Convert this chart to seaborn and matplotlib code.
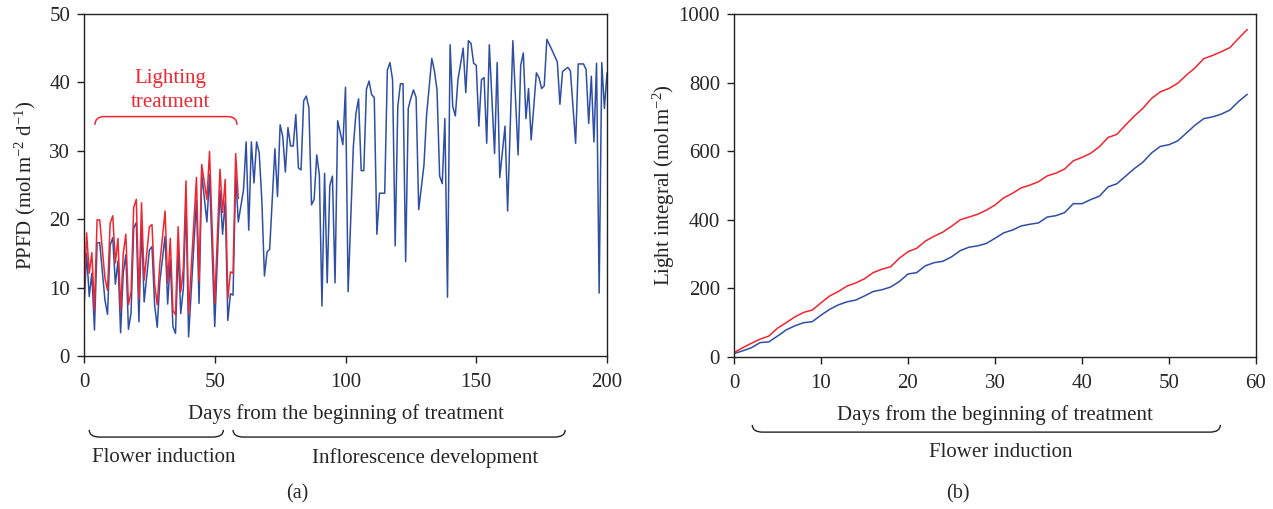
import numpy as np
import pandas as pd
import matplotlib
matplotlib.use('Agg')
import matplotlib.pyplot as plt
import seaborn as sns
from matplotlib.path import Path
from matplotlib.patches import PathPatch
import matplotlib.transforms as mtransforms

# ---- data ----
# (a) daily PPFD, flower induction period (lit plants in red, control in blue)
days_ind = [0, 1, 2, 3, 4, 5, 6, 8, 9, 10, 11, 12, 13, 14, 15, 16, 17, 18, 19, 20,
            21, 22, 23, 25, 26, 27, 28, 29, 31, 32, 33, 34, 35, 36, 37, 38, 39, 40, 43, 44,
            45, 47, 48, 50, 52, 53, 54, 55, 56, 57, 58, 59]
ppfd_ctrl_ind = [7.0, 15.0, 8.7, 12.1, 3.8, 16.5, 16.6, 8.2, 6.1, 16.2,
                 17.3, 10.5, 13.9, 3.4, 12.1, 14.8, 3.9, 6.3, 18.7, 19.5,
                 5.0, 19.2, 7.9, 15.5, 16.0, 7.5, 4.2, 10.9, 17.5, 7.6,
                 14.1, 4.3, 3.3, 15.7, 6.2, 9.9, 22.6, 2.8, 22.8, 7.7,
                 26.7, 19.6, 26.5, 4.3, 24.2, 17.8, 22.7, 5.2, 9.1, 8.9,
                 26.5, 19.6]
ppfd_lit_ind = [8.5, 18.0, 12.1, 15.1, 6.7, 19.9, 19.9, 11.4, 9.6, 19.4,
                20.5, 13.6, 17.2, 6.7, 14.9, 17.8, 7.5, 9.4, 21.7, 22.9,
                8.4, 22.4, 11.1, 18.9, 19.2, 10.5, 7.5, 13.5, 21.2, 10.6,
                17.2, 6.7, 6.0, 18.9, 9.4, 12.8, 25.6, 6.2, 26.1, 10.9,
                28.0, 22.9, 29.9, 7.7, 27.3, 21.0, 25.8, 8.4, 12.3, 12.1,
                29.6, 23.0]

# (a) daily PPFD, inflorescence development period
days_dev = [61, 62, 63, 64, 65, 66, 67, 68, 69, 70, 71, 73, 74, 75, 76, 77, 78, 79, 80, 81,
            82, 83, 84, 85, 86, 87, 88, 89, 90, 91, 92, 93, 94, 95, 96, 97, 99, 100, 101, 103,
            104, 105, 106, 107, 108, 109, 110, 111, 112, 113, 115, 116, 117, 118, 119, 120,
            121, 122, 123, 124, 125, 126, 127, 128, 130, 131, 133, 134, 135, 136, 137, 138,
            139, 140, 141, 142, 143, 145, 146, 147, 148, 149, 150, 151, 152, 153, 154, 155,
            157, 158, 159, 161, 162, 164, 166, 167, 168, 169, 170, 171, 173, 174, 175, 176,
            177, 178, 179, 181, 182, 183, 185, 186, 188, 189, 191, 192, 193, 194, 195, 196,
            197, 198, 199, 200]
ppfd_dev = [24.3, 31.3, 18.4, 31.3, 25.3, 31.3, 29.7, 22.8, 11.7, 15.2,
            15.6, 30.3, 23.3, 33.8, 32.1, 26.9, 33.4, 30.7, 30.7, 35.3,
            27.5, 27.2, 37.3, 38.0, 36.3, 22.1, 22.9, 29.4, 26.5, 7.3,
            26.7, 10.7, 24.9, 26.3, 10.7, 34.4, 30.9, 39.3, 9.4, 30.6,
            35.5, 37.6, 27.1, 27.1, 39.0, 40.2, 38.2, 37.8, 17.8, 23.8,
            23.8, 41.8, 42.9, 40.4, 16.1, 36.5, 39.8, 39.8, 13.8, 36.2,
            37.7, 38.9, 37.8, 21.4, 27.9, 35.2, 43.5, 41.7, 38.9, 26.3,
            25.2, 34.7, 8.6, 45.5, 36.5, 35.1, 40.4, 45.0, 38.5, 46.1,
            45.7, 42.8, 42.5, 33.6, 40.4, 40.7, 31.1, 45.5, 29.6, 42.9,
            26.1, 33.6, 21.2, 46.1, 29.4, 42.5, 44.3, 34.7, 39.1, 31.6,
            41.4, 40.7, 39.1, 39.5, 46.3, 45.5, 44.7, 43.0, 36.8, 41.6,
            42.2, 41.7, 31.1, 42.7, 42.7, 41.9, 34.0, 40.9, 31.3, 42.8,
            9.2, 42.9, 36.2, 41.4]

# (b) light integral during flower induction
days_b = np.arange(60)
integral_ctrl = [10, 18, 27, 42, 44, 61, 79, 91, 100, 103,
                 122, 139, 152, 161, 166, 178, 191, 196, 204, 220,
                 242, 246, 266, 275, 279, 292, 310, 320, 324, 331,
                 346, 362, 370, 382, 387, 391, 408, 412, 421, 447,
                 447, 459, 469, 496, 505, 527, 549, 568, 595, 614,
                 619, 630, 653, 676, 695, 700, 708, 720, 745, 766]
integral_lit = [13, 27, 40, 52, 61, 84, 100, 117, 130, 137,
                158, 178, 191, 207, 216, 228, 246, 256, 263, 288,
                307, 317, 338, 352, 364, 381, 400, 408, 416, 428,
                443, 464, 477, 493, 501, 511, 528, 536, 548, 572,
                582, 594, 613, 640, 649, 676, 702, 725, 754, 773,
                783, 798, 822, 843, 870, 879, 890, 902, 929, 955]

BLUE = '#2f4fa6'
RED = '#ef2630'

sns.set_style('ticks')
plt.rcParams['font.family'] = ['Liberation Serif', 'DejaVu Serif']
plt.rcParams['mathtext.fontset'] = 'custom'
plt.rcParams['mathtext.rm'] = 'Liberation Serif'
plt.rcParams['mathtext.it'] = 'Liberation Serif:italic'
plt.rcParams['axes.unicode_minus'] = True
FS = 15

W, H = 1273, 509
fig = plt.figure(figsize=(W / 100, H / 100), dpi=100)


def px_axes(l, t, r, b):
    return fig.add_axes([l / W, 1 - b / H, (r - l) / W, (b - t) / H])


def brace(ax, x0, x1, y_tip, y_base, r, color='#222222', lw=1.0):
    # rounded bracket: data x, axes-fraction y
    tr = mtransforms.blended_transform_factory(ax.transData, ax.transAxes)
    verts = [(x0, y_tip), (x0, y_base), (x0 + r, y_base),
             (x1 - r, y_base), (x1, y_base), (x1, y_tip)]
    codes = [Path.MOVETO, Path.CURVE3, Path.CURVE3,
             Path.LINETO, Path.CURVE3, Path.CURVE3]
    ax.add_patch(PathPatch(Path(verts, codes), transform=tr, fill=False,
                           edgecolor=color, lw=lw, clip_on=False))


def style(ax):
    for s in ax.spines.values():
        s.set_visible(True)
        s.set_linewidth(1.0)
        s.set_color('#222222')
    ax.tick_params(direction='out', length=5, width=1.0, color='#222222',
                   labelsize=FS)
    ax.tick_params(axis='x', pad=7)
    ax.tick_params(axis='y', pad=5)


# ---- panel (a) ----
ax1 = px_axes(84, 14, 607, 356)
ctrl_a = pd.DataFrame({'day': days_ind + days_dev, 'ppfd': ppfd_ctrl_ind + ppfd_dev})
lit_a = pd.DataFrame({'day': days_ind, 'ppfd': ppfd_lit_ind})
sns.lineplot(data=ctrl_a, x='day', y='ppfd', color=BLUE, lw=1.1, ax=ax1)
sns.lineplot(data=lit_a, x='day', y='ppfd', color=RED, lw=1.1, ax=ax1)
ax1.set_xlim(0, 200)
ax1.set_ylim(0, 50)
ax1.set_xticks([0, 50, 100, 150, 200])
ax1.set_yticks([0, 10, 20, 30, 40, 50])
ax1.set_xlabel('Days from the beginning of treatment', fontsize=FS, labelpad=9)
ax1.set_ylabel(r'PPFD (mol$\,$m$^{-2}$ d$^{-1}$)', fontsize=FS, labelpad=8)
style(ax1)

ax1.text(33.0, 38.8, 'Lighting\ntreatment', color=RED, fontsize=FS,
         ha='center', va='center', linespacing=1.35)
brace(ax1, 4.2, 58.5, 33.8 / 50, 35.0 / 50, 3.5, color=RED, lw=1.1)

blend1 = mtransforms.blended_transform_factory(ax1.transData, ax1.transAxes)
brace(ax1, 2.0, 53.3, -0.216, -0.237, 4.0)
brace(ax1, 57.0, 184.0, -0.216, -0.237, 4.0)
ax1.text(30.5, -0.297, 'Flower induction', fontsize=FS, ha='center', va='center',
         transform=blend1)
ax1.text(130.5, -0.297, 'Inflorescence development', fontsize=FS, ha='center',
         va='center', transform=blend1)
fig.text(297 / W, 1 - 494 / H, '(a)', fontsize=FS - 0.5, ha='center', va='center')

# ---- panel (b) ----
ax2 = px_axes(734, 14, 1256, 357)
ctrl_b = pd.DataFrame({'day': days_b, 'integral': integral_ctrl})
lit_b = pd.DataFrame({'day': days_b, 'integral': integral_lit})
sns.lineplot(data=ctrl_b, x='day', y='integral', color=BLUE, lw=1.1, ax=ax2)
sns.lineplot(data=lit_b, x='day', y='integral', color=RED, lw=1.1, ax=ax2)
ax2.set_xlim(0, 60)
ax2.set_ylim(0, 1000)
ax2.set_xticks(range(0, 61, 10))
ax2.set_yticks(range(0, 1001, 200))
ax2.set_xlabel('Days from the beginning of treatment', fontsize=FS, labelpad=9)
ax2.set_ylabel(r'Light integral (mol$\,$m$^{-2}$)', fontsize=FS, labelpad=1)
style(ax2)

blend2 = mtransforms.blended_transform_factory(ax2.transData, ax2.transAxes)
brace(ax2, 2.1, 55.9, -0.198, -0.219, 1.2)
ax2.text(30.7, -0.277, 'Flower induction', fontsize=FS, ha='center', va='center',
         transform=blend2)
fig.text(958 / W, 1 - 494 / H, '(b)', fontsize=FS - 0.5, ha='center', va='center')

fig.savefig('out.png', dpi=100)
